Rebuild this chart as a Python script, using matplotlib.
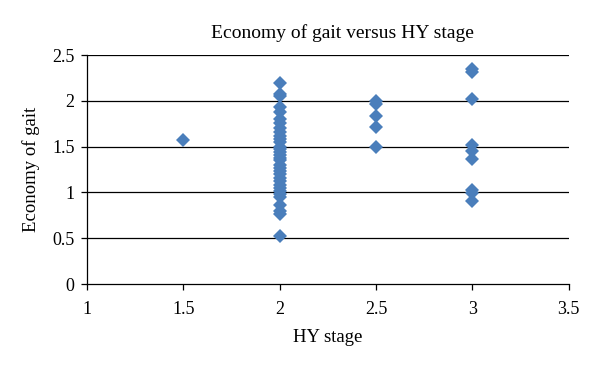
import matplotlib
matplotlib.use("Agg")
import matplotlib.pyplot as plt

hy_15 = [1.5]
gait_15 = [1.57]

hy_20 = [2.0] * 33
gait_20 = [2.2, 2.08, 2.05, 1.93, 1.88, 1.8, 1.76, 1.7, 1.66, 1.62, 1.58,
           1.55, 1.5, 1.47, 1.44, 1.41, 1.38, 1.35, 1.3, 1.27, 1.23, 1.2,
           1.16, 1.12, 1.08, 1.05, 1.02, 0.98, 0.95, 0.86, 0.8, 0.76, 0.53]

hy_25 = [2.5] * 5
gait_25 = [2.0, 1.97, 1.84, 1.72, 1.5]

hy_30 = [3.0] * 9
gait_30 = [2.35, 2.32, 2.02, 1.52, 1.45, 1.36, 1.03, 0.99, 0.91]

x = hy_15 + hy_20 + hy_25 + hy_30
y = gait_15 + gait_20 + gait_25 + gait_30

plt.rcParams["font.family"] = "Liberation Serif"
plt.rcParams["font.size"] = 13

fig = plt.figure(figsize=(6, 3.67), dpi=100)
ax = fig.add_axes([0.145, 0.226, 0.803, 0.624])

for yy in [0.5, 1, 1.5, 2, 2.5]:
    ax.axhline(yy, color="black", lw=0.9, zorder=1)

ax.plot(x, y, "D", color="#4a7ebb", markersize=7.5, markeredgewidth=0, zorder=3)

ax.set_xlim(1, 3.5)
ax.set_ylim(0, 2.5)
ax.set_xticks([1, 1.5, 2, 2.5, 3, 3.5])
ax.set_xticklabels(["1", "1.5", "2", "2.5", "3", "3.5"])
ax.set_yticks([0, 0.5, 1, 1.5, 2, 2.5])
ax.set_yticklabels(["0", "0.5", "1", "1.5", "2", "2.5"])
ax.spines["top"].set_visible(False)
ax.spines["right"].set_visible(False)
ax.spines["left"].set_linewidth(0.9)
ax.spines["bottom"].set_linewidth(0.9)
ax.tick_params(direction="out", length=4, width=0.9, labelsize=13)
ax.tick_params(axis="x", pad=8)
ax.tick_params(axis="y", pad=5)

ax.set_title("Economy of gait versus HY stage", pad=12, fontsize=14, x=0.53)
ax.set_xlabel("HY stage", labelpad=8, fontsize=13.5)
ax.set_ylabel("Economy of gait", labelpad=9, fontsize=13.5)

fig.savefig("out.png", dpi=100)
